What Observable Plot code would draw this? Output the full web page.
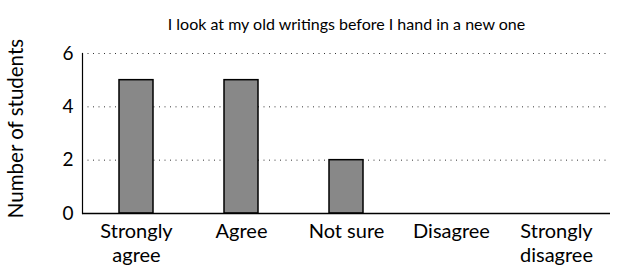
<!DOCTYPE html>
<html>
<head>
<meta charset="utf-8">
<script src="https://cdn.jsdelivr.net/npm/d3@7"></script>
<script src="https://cdn.jsdelivr.net/npm/@observablehq/plot@0.6"></script>
<style>
  html, body { margin: 0; padding: 0; background: #fff; }
  svg { font-family: Lato, "Open Sans", sans-serif; }
</style>
</head>
<body>
<div id="chart"></div>
<script>
const title = "I look at my old writings before I hand in a new one";
const categories = ["Strongly\nagree", "Agree", "Not sure", "Disagree", "Strongly\ndisagree"];
const counts = [5, 5, 2, 0, 0];
const yTicks = [0, 2, 4, 6];
const gridTicks = [2, 4, 6];
const yLabel = "Number of students";

const data = categories.map((c, i) => ({cat: c, n: counts[i]}));

const chart = Plot.plot({
  width: 617,
  height: 271,
  marginTop: 53,
  marginBottom: 58,
  marginLeft: 82,
  marginRight: 7,
  style: {fontFamily: "Lato, 'Open Sans', sans-serif", color: "#000", background: "#fff"},
  x: {domain: categories, paddingInner: 0.68, paddingOuter: 0.34},
  y: {domain: [0, 6]},
  marks: [
    Plot.gridY(gridTicks, {stroke: "#000", strokeOpacity: 0.8, strokeDasharray: "1,4.5", strokeWidth: 1}),
    Plot.barY(data, {x: "cat", y: "n", fill: "#888888", stroke: "#000", strokeWidth: 1.5}),
    Plot.ruleY([0], {stroke: "#000", strokeWidth: 1.5}),
    Plot.frame({anchor: "left", stroke: "#000", strokeWidth: 1.2}),
    Plot.axisY({ticks: yTicks, tickFormat: "d", tickSize: 0, tickPadding: 9, fontSize: 19, label: null}),
    Plot.text([yLabel], {frameAnchor: "left", dx: -66, dy: -5, rotate: -90, textAnchor: "middle", lineAnchor: "middle", fontSize: 20.5, text: d => d}),
    Plot.axisX({tickSize: 0, tickPadding: 8, fontSize: 20, lineHeight: 1.17, label: null}),
    Plot.text([title], {frameAnchor: "top", dy: -35, fontSize: 16, text: d => d})
  ]
});
document.getElementById("chart").appendChild(chart);
</script>
</body>
</html>
